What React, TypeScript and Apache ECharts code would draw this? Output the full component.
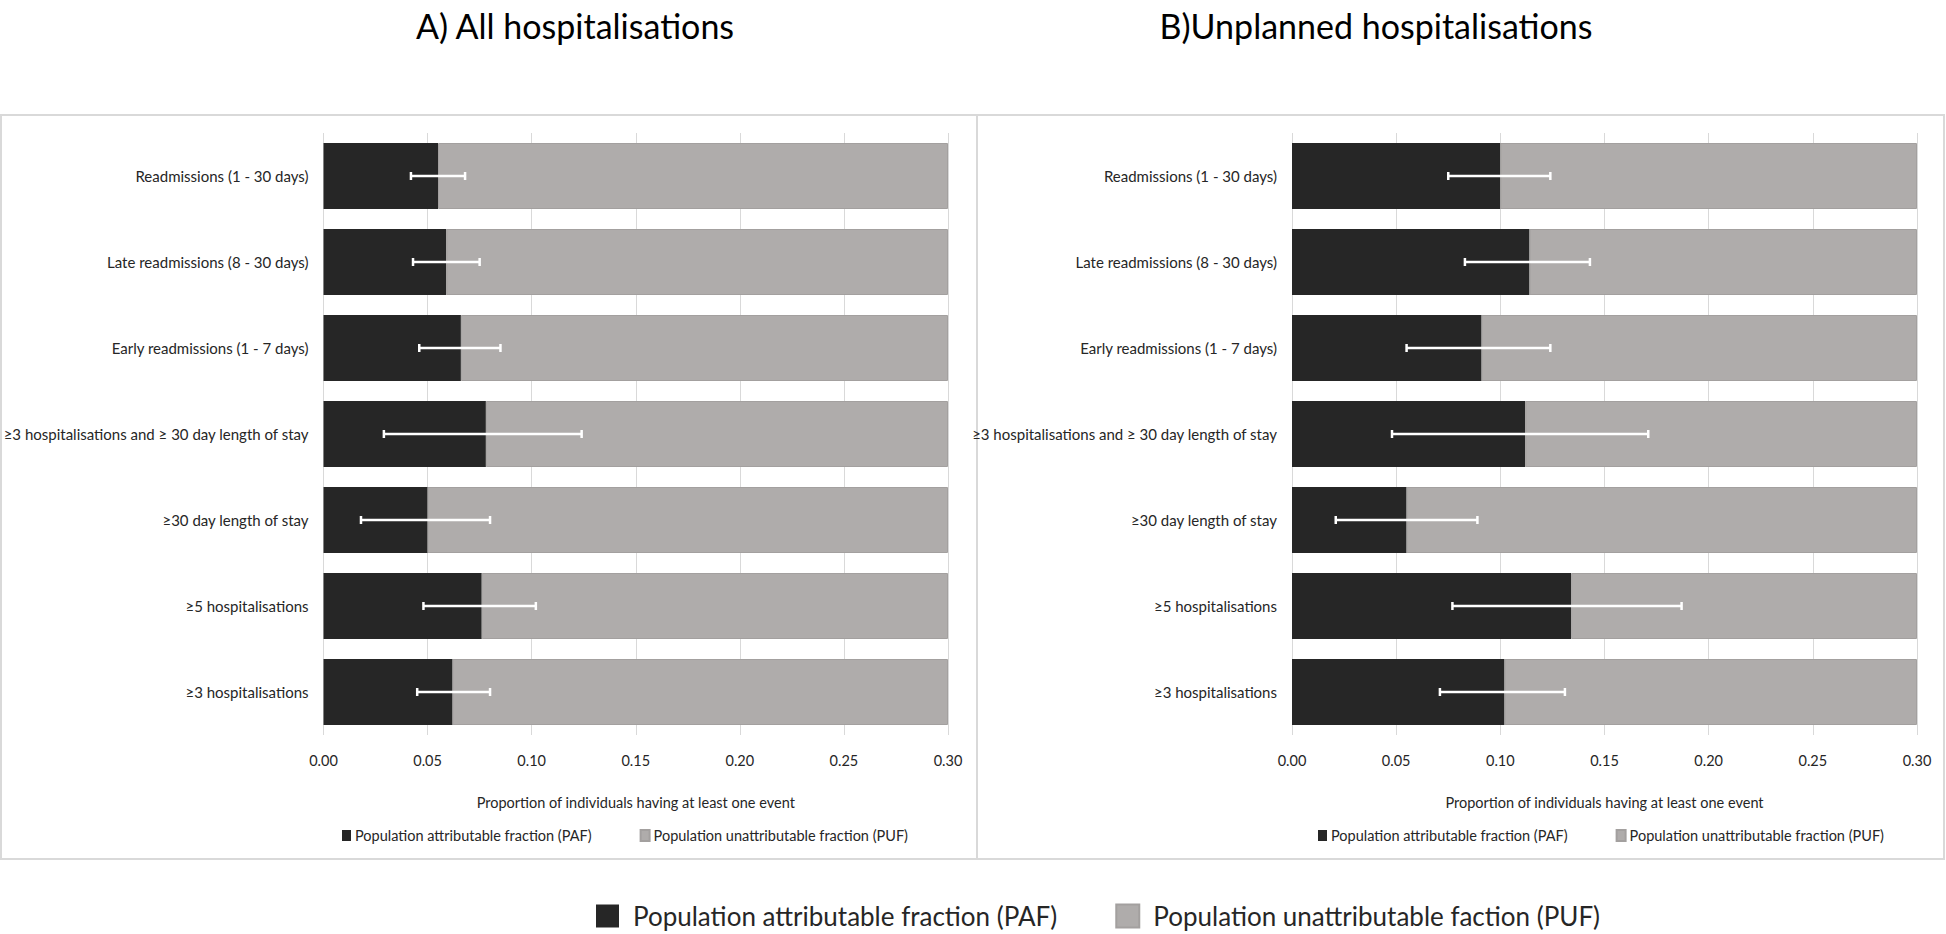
import React, { useEffect, useRef } from "react";
import * as echarts from "echarts";

const categories = [
  "Readmissions (1 - 30 days)",
  "Late readmissions (8 - 30 days)",
  "Early readmissions (1 - 7 days)",
  "≥3 hospitalisations and ≥ 30 day length of stay",
  "≥30 day length of stay",
  "≥5 hospitalisations",
  "≥3 hospitalisations",
];

const xTicks = [0, 0.05, 0.1, 0.15, 0.2, 0.25, 0.3];

// A) All hospitalisations
const allPaf = [0.055, 0.059, 0.066, 0.078, 0.05, 0.076, 0.062];
const allPuf = [0.245, 0.241, 0.234, 0.222, 0.25, 0.224, 0.238];
const allLow = [0.042, 0.043, 0.046, 0.029, 0.018, 0.048, 0.045];
const allHigh = [0.068, 0.075, 0.085, 0.124, 0.08, 0.102, 0.08];

// B) Unplanned hospitalisations
const unpPaf = [0.1, 0.114, 0.091, 0.112, 0.055, 0.134, 0.102];
const unpPuf = [0.2, 0.186, 0.209, 0.188, 0.245, 0.166, 0.198];
const unpLow = [0.075, 0.083, 0.055, 0.048, 0.021, 0.077, 0.071];
const unpHigh = [0.124, 0.143, 0.124, 0.171, 0.089, 0.187, 0.131];

const PAF_NAME = "Population attributable fraction (PAF)";
const PUF_NAME = "Population unattributable fraction (PUF)";
const PUF_BIG_LABEL = "Population unattributable faction (PUF)";

const PAF_COLOR = "#262626";
const PUF_COLOR = "#afacab";
const FONT = "Lato";
const TEXT = "#262626";

function errorRender(params: any, api: any) {
  const cat = api.value(0);
  const lo = api.coord([api.value(1), cat]);
  const hi = api.coord([api.value(2), cat]);
  const cap = 4;
  const style = { stroke: "#ffffff", lineWidth: 2.5 };
  return {
    type: "group",
    children: [
      { type: "line", shape: { x1: lo[0], y1: lo[1], x2: hi[0], y2: hi[1] }, style },
      { type: "line", shape: { x1: lo[0], y1: lo[1] - cap, x2: lo[0], y2: lo[1] + cap }, style },
      { type: "line", shape: { x1: hi[0], y1: hi[1] - cap, x2: hi[0], y2: hi[1] + cap }, style },
    ],
  };
}

export default function App() {
  const ref = useRef<HTMLDivElement>(null);

  useEffect(() => {
    document.body.style.margin = "0";
    if (!ref.current) return;
    const chart = echarts.init(ref.current, undefined, { renderer: "svg" });

    const grids = [
      { left: 323, top: 133, width: 625, height: 602 },
      { left: 1292, top: 133, width: 625, height: 602 },
    ];

    const xAxis = [0, 1].map((i) => ({
      type: "value",
      gridIndex: i,
      min: xTicks[0],
      max: xTicks[xTicks.length - 1],
      interval: 0.05,
      name: "Proportion of individuals having at least one event",
      nameLocation: "middle",
      nameGap: 60,
      nameTextStyle: { fontFamily: FONT, fontSize: 14.5, color: TEXT },
      axisLine: { show: false },
      axisTick: { show: false },
      axisLabel: {
        fontFamily: FONT,
        fontSize: 14.5,
        color: TEXT,
        margin: 18,
        formatter: (v: number) => v.toFixed(2),
      },
      splitLine: { show: true, lineStyle: { color: "#d9d9d9", width: 1 } },
    }));

    const yAxis = [0, 1].map((i) => ({
      type: "category",
      gridIndex: i,
      data: categories,
      inverse: true,
      axisLine: { show: false },
      axisTick: { show: false },
      axisLabel: { fontFamily: FONT, fontSize: 15, color: TEXT, margin: 15 },
      splitLine: { show: false },
    }));

    const panels = [
      { paf: allPaf, puf: allPuf, low: allLow, high: allHigh },
      { paf: unpPaf, puf: unpPuf, low: unpLow, high: unpHigh },
    ];

    const series: any[] = [];
    panels.forEach((p, i) => {
      series.push({
        name: PAF_NAME,
        type: "bar",
        xAxisIndex: i,
        yAxisIndex: i,
        stack: "s" + i,
        barWidth: 66,
        itemStyle: { color: PAF_COLOR },
        data: p.paf,
      });
      series.push({
        name: PUF_NAME,
        type: "bar",
        xAxisIndex: i,
        yAxisIndex: i,
        stack: "s" + i,
        barWidth: 66,
        itemStyle: { color: PUF_COLOR, borderColor: "#a3a09f", borderWidth: 1 },
        data: p.puf,
      });
      series.push({
        name: "CI" + i,
        type: "custom",
        xAxisIndex: i,
        yAxisIndex: i,
        z: 10,
        renderItem: errorRender,
        encode: { x: [1, 2], y: 0 },
        data: categories.map((_, k) => [k, p.low[k], p.high[k]]),
      });
    });

    const smallLegend = (left: number) => ({
      left,
      top: 828,
      padding: 0,
      orient: "horizontal",
      itemWidth: 9,
      itemHeight: 11,
      itemGap: 48,
      icon: "rect",
      selectedMode: false,
      data: [PAF_NAME, PUF_NAME],
      textStyle: { fontFamily: FONT, fontSize: 14.5, color: TEXT, padding: [0, 0, 0, -1] },
    });

    chart.setOption({
      animation: false,
      backgroundColor: "#ffffff",
      title: [
        {
          text: "A) All hospitalisations",
          left: 570,
          top: 3,
          textAlign: "center",
          textStyle: { fontFamily: FONT, fontSize: 34, fontWeight: "normal", color: "#000" },
        },
        {
          text: "B)Unplanned hospitalisations",
          left: 1371,
          top: 3,
          textAlign: "center",
          textStyle: { fontFamily: FONT, fontSize: 34, fontWeight: "normal", color: "#000" },
        },
      ],
      legend: [
        smallLegend(342),
        smallLegend(1318),
        {
          left: 596,
          top: 903,
          padding: 0,
          itemWidth: 23,
          itemHeight: 23,
          itemGap: 58,
          icon: "rect",
          selectedMode: false,
          data: [PAF_NAME, PUF_NAME],
          formatter: (name: string) => (name === PUF_NAME ? PUF_BIG_LABEL : name),
          textStyle: { fontFamily: FONT, fontSize: 26, lineHeight: 26, color: TEXT, padding: [0, 0, 0, 9] },
        },
      ],
      graphic: [
        {
          type: "rect",
          shape: { x: 1, y: 115, width: 976, height: 744 },
          style: { fill: "none", stroke: "#d9d9d9", lineWidth: 2 },
          silent: true,
        },
        {
          type: "rect",
          shape: { x: 977, y: 115, width: 967, height: 744 },
          style: { fill: "none", stroke: "#d9d9d9", lineWidth: 2 },
          silent: true,
        },
      ],
      grid: grids,
      xAxis,
      yAxis,
      series,
    });

    return () => chart.dispose();
  }, []);

  return <div ref={ref} style={{ width: 1946, height: 934 }} />;
}
